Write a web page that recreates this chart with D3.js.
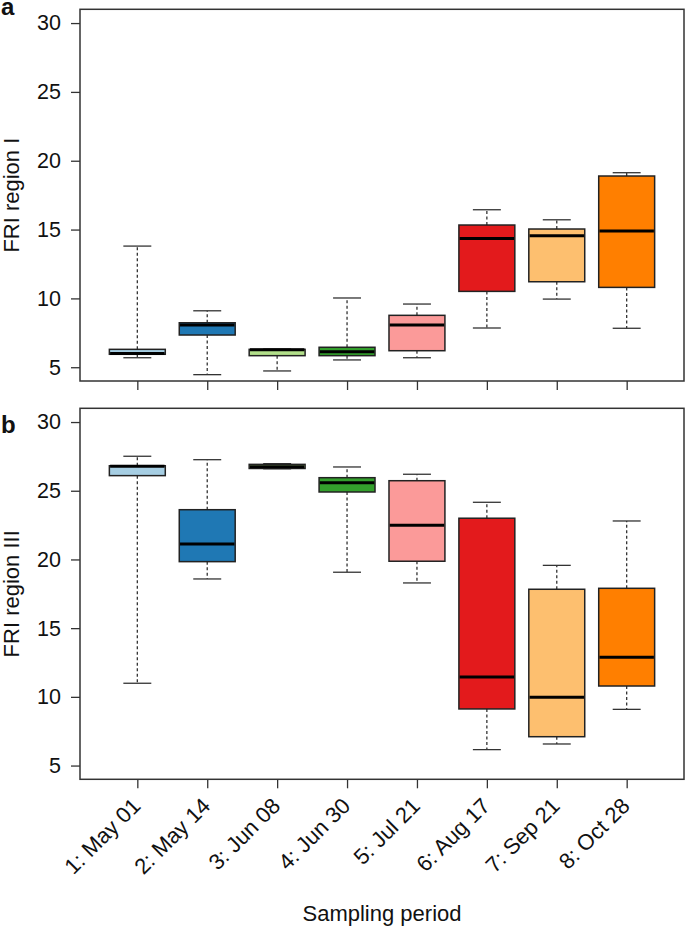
<!DOCTYPE html>
<html lang="en">
<head>
  <meta charset="UTF-8">
  <title>FRI boxplots</title>
  <script src="https://d3js.org/d3.v7.min.js"></script>
  <style>
    body { margin: 0; background: #fff; }
    svg text { font-family: "Liberation Sans", Arial, Helvetica, sans-serif; fill: #111; }
    .tick line { stroke: #333; stroke-width: 1.3; }
    .tick text { font-size: 21.5px; }
    .xlab .tick text { font-size: 22px; }
    .frame { fill: none; stroke: #333; stroke-width: 1.5; }
    .box { stroke: #222; stroke-width: 1.5; }
    .median { stroke: #000; stroke-width: 3; }
    .whisker { stroke: #333; stroke-width: 1.3; stroke-dasharray: 3,2.5; }
    .cap { stroke: #333; stroke-width: 1.3; }
    .title { font-size: 22px; }
    .panel { font-size: 24px; font-weight: bold; }
  </style>
</head>
<body>
  <div id="chart"></div>
  <script>
    const periods = ["1: May 01", "2: May 14", "3: Jun 08", "4: Jun 30",
                     "5: Jul 21", "6: Aug 17", "7: Sep 21", "8: Oct 28"];
    const colors = ["#A6CEE3", "#1F78B4", "#B2DF8A", "#33A02C",
                    "#FB9A99", "#E31A1C", "#FDBF6F", "#FF7F00"];
    const yTicks = [5, 10, 15, 20, 25, 30];

    // region I: whisker low, Q1, median, Q3, whisker high
    const regionI_low  = [5.69, 4.46, 4.73, 5.53, 5.69, 7.85, 9.95, 7.83];
    const regionI_q1   = [5.94, 7.34, 5.84, 5.84, 6.20, 10.51, 11.21, 10.80];
    const regionI_med  = [5.99, 8.07, 6.27, 6.13, 8.07, 14.36, 14.55, 14.89];
    const regionI_q3   = [6.30, 8.23, 6.30, 6.45, 8.77, 15.33, 15.04, 18.89];
    const regionI_high = [13.80, 9.10, 6.32, 10.03, 9.59, 16.44, 15.71, 19.13];

    // region III
    const regionIII_low  = [10.99, 18.58, 26.60, 19.07, 18.29, 6.16, 6.57, 9.09];
    const regionIII_q1   = [26.10, 19.84, 26.62, 24.91, 19.87, 9.12, 7.10, 10.79];
    const regionIII_med  = [26.78, 21.12, 26.75, 25.59, 22.49, 11.45, 9.97, 12.88];
    const regionIII_q3   = [26.82, 23.62, 26.92, 25.95, 25.73, 23.00, 17.83, 17.90];
    const regionIII_high = [27.51, 27.26, 26.97, 26.73, 26.20, 24.16, 19.57, 22.80];

    const W = 685, H = 928;
    const left = 80, right = 684;

    const svg = d3.select("#chart").append("svg")
      .attr("width", W).attr("height", H);

    // R style: xlim 0.5..8.5 plus 4%
    const x = d3.scaleLinear().domain([0.18, 8.82]).range([left, right]);
    const boxW = (x(2) - x(1)) * 0.8;

    function panel(top, bottom, stats, letter, letterY, yTitle, showLabels) {
      const y = d3.scaleLinear().domain([4, 31]).range([bottom, top]);
      const g = svg.append("g");

      const rows = periods.map((p, i) => ({
        i: i + 1, color: colors[i],
        lo: stats[0][i], q1: stats[1][i], med: stats[2][i], q3: stats[3][i], hi: stats[4][i]
      }));

      // whiskers
      g.selectAll(".wu").data(rows).enter().append("line")
        .attr("class", "whisker")
        .attr("x1", d => x(d.i)).attr("x2", d => x(d.i))
        .attr("y1", d => y(d.q3)).attr("y2", d => y(d.hi));
      g.selectAll(".wl").data(rows).enter().append("line")
        .attr("class", "whisker")
        .attr("x1", d => x(d.i)).attr("x2", d => x(d.i))
        .attr("y1", d => y(d.q1)).attr("y2", d => y(d.lo));
      // caps
      ["hi", "lo"].forEach(k => {
        g.selectAll(".cap-" + k).data(rows).enter().append("line")
          .attr("class", "cap")
          .attr("x1", d => x(d.i) - boxW / 4).attr("x2", d => x(d.i) + boxW / 4)
          .attr("y1", d => y(d[k])).attr("y2", d => y(d[k]));
      });
      // boxes
      g.selectAll(".box").data(rows).enter().append("rect")
        .attr("class", "box")
        .attr("x", d => x(d.i) - boxW / 2)
        .attr("width", boxW)
        .attr("y", d => y(d.q3))
        .attr("height", d => y(d.q1) - y(d.q3))
        .attr("fill", d => d.color);
      // medians
      g.selectAll(".median").data(rows).enter().append("line")
        .attr("class", "median")
        .attr("x1", d => x(d.i) - boxW / 2 + 0.75).attr("x2", d => x(d.i) + boxW / 2 - 0.75)
        .attr("y1", d => y(d.med)).attr("y2", d => y(d.med));

      // axes
      const ya = g.append("g")
        .attr("transform", `translate(${left},0)`)
        .call(d3.axisLeft(y).tickValues(yTicks).tickSize(9).tickPadding(10));
      ya.select(".domain").remove();

      const xa = g.append("g")
        .attr("class", "xlab")
        .attr("transform", `translate(0,${bottom})`)
        .call(d3.axisBottom(x).tickValues(d3.range(1, 9)).tickSize(9)
          .tickFormat(showLabels ? (d => periods[d - 1]) : ""));
      xa.select(".domain").remove();
      if (showLabels) {
        xa.selectAll("text")
          .attr("y", null).attr("dy", null)
          .attr("text-anchor", "end")
          .attr("transform", "translate(4,28) rotate(-45)");
      }

      g.append("rect").attr("class", "frame")
        .attr("x", left).attr("y", top)
        .attr("width", right - left).attr("height", bottom - top);

      g.append("text").attr("class", "panel")
        .attr("x", 1).attr("y", letterY).text(letter);

      g.append("text").attr("class", "title")
        .attr("text-anchor", "middle")
        .attr("transform", `translate(19,${(top + bottom) / 2}) rotate(-90)`)
        .text(yTitle);
    }

    panel(9.3, 381, [regionI_low, regionI_q1, regionI_med, regionI_q3, regionI_high],
          "a", 15, "FRI region I", false);
    panel(408.3, 779.3, [regionIII_low, regionIII_q1, regionIII_med, regionIII_q3, regionIII_high],
          "b", 433, "FRI region III", true);

    svg.append("text").attr("class", "title")
      .attr("text-anchor", "middle")
      .attr("x", (left + right) / 2).attr("y", 921)
      .text("Sampling period");
  </script>
</body>
</html>
